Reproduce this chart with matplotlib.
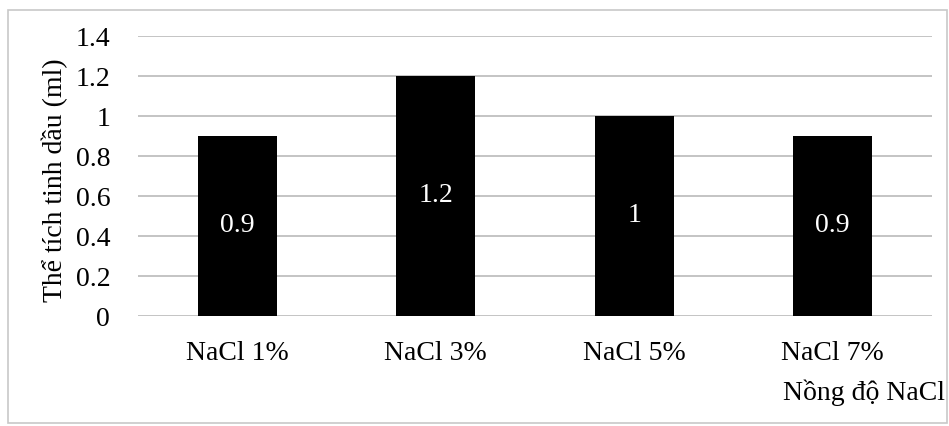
import matplotlib
matplotlib.use("Agg")
import matplotlib.pyplot as plt
from matplotlib.patches import Rectangle

categories = ["NaCl 1%", "NaCl 3%", "NaCl 5%", "NaCl 7%"]
values = [0.9, 1.2, 1.0, 0.9]
value_labels = ["0.9", "1.2", "1", "0.9"]
yticks = [0, 0.2, 0.4, 0.6, 0.8, 1, 1.2, 1.4]
ytick_labels = ["0", "0.2", "0.4", "0.6", "0.8", "1", "1.2", "1.4"]

plt.rcParams['font.family'] = ['Liberation Serif', 'DejaVu Serif']

W, H = 949, 426
fig = plt.figure(figsize=(W/100, H/100), dpi=100)
ax = fig.add_axes([138/W, 1 - 316/H, (932-138)/W, (316-36)/H])

FS = 20
x = list(range(len(categories)))
ax.bar(x, values, width=0.4, color="black", zorder=3)
for xi, v, lab in zip(x, values, value_labels):
    ax.text(xi, v/2, lab, color="white", ha="center", va="center", fontsize=FS, zorder=4)

ax.set_xlim(-0.5, len(categories) - 0.5)
ax.set_ylim(0, 1.4)
ax.set_yticks(yticks)
ax.set_yticklabels(ytick_labels, fontsize=FS)
ax.set_xticks(x)
ax.set_xticklabels(categories, fontsize=FS)
ax.tick_params(axis='y', length=0, pad=20)
ax.tick_params(axis='x', length=0, pad=18)
ax.grid(axis='y', color="#c4c4c4", linewidth=1.4, zorder=0)
for s in ax.spines.values():
    s.set_visible(False)

fig.text(55/W, 1 - 180/H, "Thể tích tinh dầu (ml)", rotation=90, ha="center", va="center", fontsize=FS)
fig.text(945/W, 1 - 393/H, "Nồng độ NaCl", ha="right", va="center", fontsize=FS)

fig.patches.append(Rectangle((8/W, 1 - 423/H), (939)/W, (413)/H, transform=fig.transFigure,
                             fill=False, edgecolor="#c8c8c8", linewidth=1.2))

fig.savefig("out.png", dpi=100)
